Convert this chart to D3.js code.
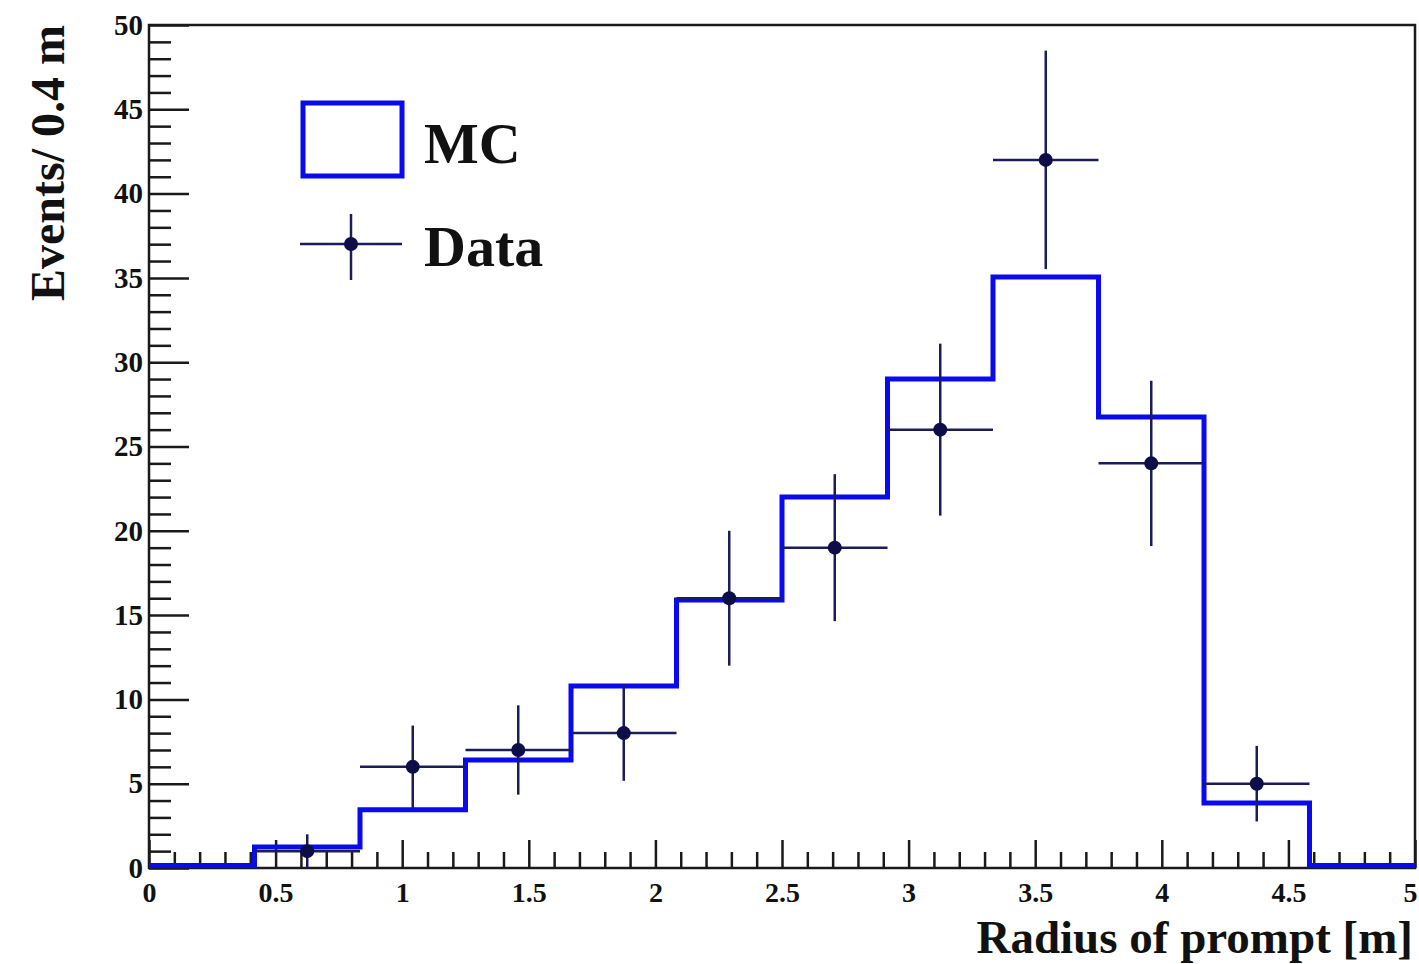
<!DOCTYPE html>
<html>
<head>
<meta charset="utf-8">
<script src="https://cdn.jsdelivr.net/npm/d3@7"></script>
<style>
  html, body { margin: 0; padding: 0; background: #fff; }
  svg { display: block; }
  text { font-family: "Liberation Serif", "DejaVu Serif", serif; font-weight: bold; fill: #111; }
</style>
</head>
<body>
<svg id="chart" width="1419" height="964"></svg>
<script>
// ---- data ----
const binEdges = [0, 0.4167, 0.8333, 1.25, 1.6667, 2.0833, 2.5, 2.9167, 3.3333, 3.75, 4.1667, 4.5833, 5];
const mcCounts = [0.15, 1.25, 3.45, 6.4, 10.8, 15.9, 22, 29, 35.05, 26.75, 3.85, 0.15];
const dataCounts = [0, 1, 6, 7, 8, 16, 19, 26, 42, 24, 5, 0];
const dataErrors = [0, 1, 2.45, 2.65, 2.83, 4, 4.36, 5.1, 6.48, 4.9, 2.24, 0];
const xMajorTicks = [0, 0.5, 1, 1.5, 2, 2.5, 3, 3.5, 4, 4.5, 5];
const yMajorTicks = [0, 5, 10, 15, 20, 25, 30, 35, 40, 45, 50];
const xLabel = "Radius of prompt [m]";
const yLabel = "Events/ 0.4 m";
const legendLabels = ["MC", "Data"];

// ---- layout ----
const L = 149, R = 1415, T = 25, B = 868;
const svg = d3.select("#chart");
const x = d3.scaleLinear().domain([0, 5]).range([L, R]);
const y = d3.scaleLinear().domain([0, 50]).range([B, T]);

const mcColor = "#0a0aee";
const dataColor = "#1c1c5a";
const axisColor = "#1a1a1a";

// minor ticks
const xMinor = d3.range(0, 5.0001, 0.1).map(v => +v.toFixed(2)).filter(v => !xMajorTicks.some(m => Math.abs(m - v) < 1e-6));
const yMinor = d3.range(0, 50.0001, 1).filter(v => !yMajorTicks.includes(v));

const gx = svg.append("g").attr("transform", `translate(0,${B})`)
  .call(d3.axisBottom(x).tickValues(xMajorTicks).tickSize(-28).tickPadding(14)
    .tickFormat(d => d3.format("")(d)));
gx.select(".domain").remove();
gx.selectAll("line").attr("stroke", axisColor).attr("stroke-width", 2.5);
gx.selectAll("text").attr("font-size", 28).attr("font-family", "Liberation Serif").attr("font-weight", "bold").attr("fill", "#111");
// keep the last label inside the picture
gx.selectAll("text").filter(d => d === 5).attr("dx", -5);

const gxm = svg.append("g").attr("transform", `translate(0,${B})`)
  .call(d3.axisBottom(x).tickValues(xMinor).tickSize(-16).tickFormat(""));
gxm.select(".domain").remove();
gxm.selectAll("line").attr("stroke", axisColor).attr("stroke-width", 2.5);

const gy = svg.append("g").attr("transform", `translate(${L},0)`)
  .call(d3.axisLeft(y).tickValues(yMajorTicks).tickSize(-40).tickPadding(6));
gy.select(".domain").remove();
gy.selectAll("line").attr("stroke", axisColor).attr("stroke-width", 2.5);
gy.selectAll("text").attr("font-size", 29).attr("font-family", "Liberation Serif").attr("font-weight", "bold").attr("fill", "#111");

const gym = svg.append("g").attr("transform", `translate(${L},0)`)
  .call(d3.axisLeft(y).tickValues(yMinor).tickSize(-22).tickFormat(""));
gym.select(".domain").remove();
gym.selectAll("line").attr("stroke", axisColor).attr("stroke-width", 2.5);

// frame
svg.append("rect").attr("x", L).attr("y", T).attr("width", R - L).attr("height", B - T)
  .attr("fill", "none").attr("stroke", axisColor).attr("stroke-width", 2.5);

// MC step histogram
const stepPts = binEdges.map((e, i) => [e, mcCounts[Math.min(i, mcCounts.length - 1)]]);
const stepLine = d3.line().x(d => x(d[0])).y(d => y(d[1])).curve(d3.curveStepAfter);
svg.append("path").attr("d", stepLine(stepPts))
  .attr("fill", "none").attr("stroke", mcColor).attr("stroke-width", 5);

// Data points with error bars
const pts = dataCounts.map((v, i) => ({
  lo: binEdges[i], hi: binEdges[i + 1], c: (binEdges[i] + binEdges[i + 1]) / 2, v, e: dataErrors[i]
})).filter(d => d.v > 0);
const gd = svg.append("g");
gd.selectAll("line.h").data(pts).join("line").attr("class", "h")
  .attr("x1", d => x(d.lo)).attr("x2", d => x(d.hi))
  .attr("y1", d => y(d.v)).attr("y2", d => y(d.v))
  .attr("stroke", dataColor).attr("stroke-width", 2.5);
gd.selectAll("line.v").data(pts).join("line").attr("class", "v")
  .attr("x1", d => x(d.c)).attr("x2", d => x(d.c))
  .attr("y1", d => y(d.v - d.e)).attr("y2", d => y(d.v + d.e))
  .attr("stroke", dataColor).attr("stroke-width", 2.5);
gd.selectAll("circle").data(pts).join("circle")
  .attr("cx", d => x(d.c)).attr("cy", d => y(d.v)).attr("r", 7)
  .attr("fill", "#0d0d4a");

// Legend
svg.append("rect").attr("x", 303).attr("y", 103).attr("width", 99).attr("height", 73)
  .attr("fill", "none").attr("stroke", mcColor).attr("stroke-width", 5);
svg.append("text").attr("x", 424).attr("y", 163).attr("font-size", 58).text(legendLabels[0]);
svg.append("line").attr("x1", 300).attr("x2", 402).attr("y1", 244).attr("y2", 244)
  .attr("stroke", dataColor).attr("stroke-width", 2.5);
svg.append("line").attr("x1", 351).attr("x2", 351).attr("y1", 214).attr("y2", 280)
  .attr("stroke", dataColor).attr("stroke-width", 2.5);
svg.append("circle").attr("cx", 351).attr("cy", 244).attr("r", 7).attr("fill", "#0d0d4a");
svg.append("text").attr("x", 424).attr("y", 266).attr("font-size", 58).text(legendLabels[1]);

// Axis titles
svg.append("text").attr("x", 1413).attr("y", 953).attr("text-anchor", "end")
  .attr("font-size", 47).text(xLabel);
svg.append("text").attr("transform", "translate(64,25) rotate(-90)").attr("text-anchor", "end")
  .attr("font-size", 48).text(yLabel);
</script>
</body>
</html>
